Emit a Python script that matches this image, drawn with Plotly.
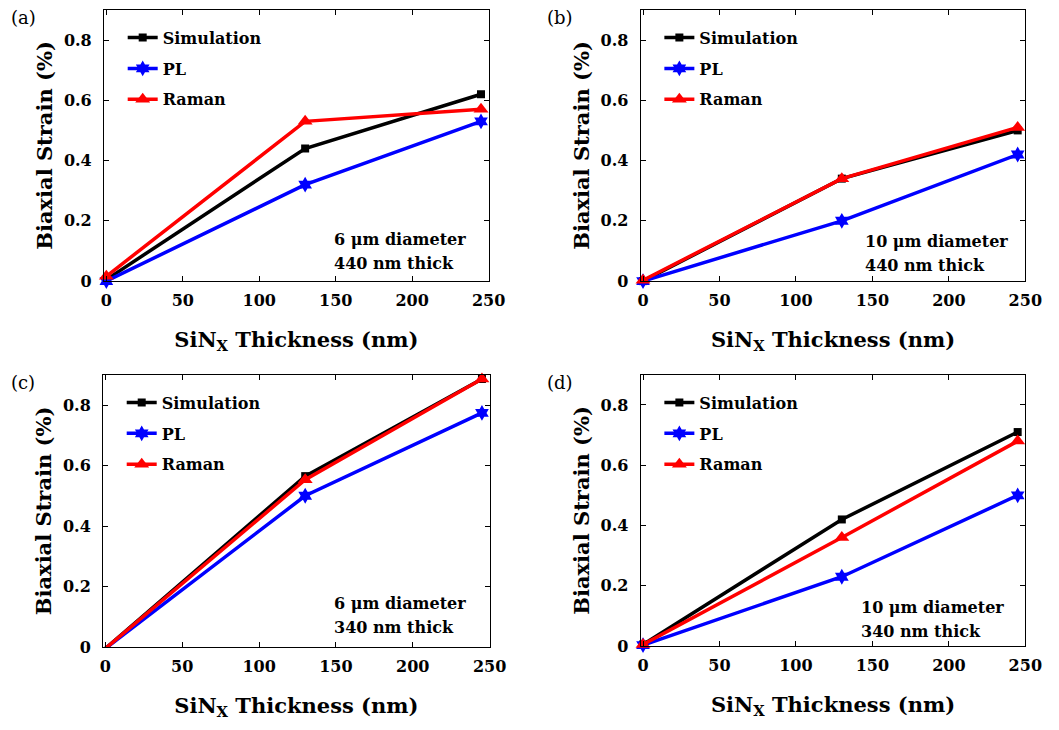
import plotly.graph_objects as go

thickness = [0, 130, 245]

sim_a = [0.005, 0.44, 0.62]
pl_a = [0.0, 0.32, 0.53]
raman_a = [0.016, 0.53, 0.57]

sim_b = [0.0, 0.34, 0.50]
pl_b = [0.0, 0.20, 0.42]
raman_b = [0.003, 0.34, 0.51]

sim_c = [-0.005, 0.565, 0.886]
pl_c = [-0.005, 0.50, 0.774]
raman_c = [-0.005, 0.553, 0.886]

sim_d = [0.005, 0.42, 0.71]
pl_d = [0.003, 0.23, 0.50]
raman_d = [0.005, 0.36, 0.68]

panel_labels = ["(a)", "(b)", "(c)", "(d)"]
notes = [("6 μm diameter", "440 nm thick"), ("10 μm diameter", "440 nm thick"),
         ("6 μm diameter", "340 nm thick"), ("10 μm diameter", "340 nm thick")]
series_names = ["Simulation", "PL", "Raman"]
xticks = [0, 50, 100, 150, 200, 250]
yticks = [0, 0.2, 0.4, 0.6, 0.8]

FONT = "DejaVu Serif"
W, H = 1059, 730

panels = [
    (sim_a, pl_a, raman_a),
    (sim_b, pl_b, raman_b),
    (sim_c, pl_c, raman_c),
    (sim_d, pl_d, raman_d),
]

# pixel boxes of plot frames: left, right, top, bottom
boxes = [(103, 495, 10, 285), (650, 1042, 10, 285), (102, 496, 380, 656), (650, 1042, 380, 655)]
# note text placement (left x, first-line center y) in pixels
note_pos = [(335, 243), (877, 245), (335, 612), (872, 616)]
label_pos = [(6, 18), (552, 18), (6, 388), (552, 388)]

styles = [
    dict(color="black", symbol="square", size=8),
    dict(color="#0000ff", symbol="hexagram", size=12),
    dict(color="#ff0000", symbol="triangle-up", size=13),
]

fig = go.Figure()
layout = dict(
    width=W, height=H, margin=dict(l=0, r=0, t=0, b=0),
    paper_bgcolor="white", plot_bgcolor="white",
    font=dict(family=FONT, size=16, color="black"),
)
annotations = []
for i, (series, box) in enumerate(zip(panels, boxes)):
    n = "" if i == 0 else str(i + 1)
    l, r, t, b = box
    xd = [l / W, r / W]
    yd = [1 - b / H, 1 - t / H]
    legname = "legend" + n
    for name, vals, st in zip(series_names, series, styles):
        fig.add_trace(go.Scatter(
            x=thickness, y=vals, name=name, mode="lines+markers",
            xaxis="x" + n, yaxis="y" + n, legend=legname, legendgroup=name + n,
            line=dict(color=st["color"], width=3.5),
            marker=dict(color=st["color"], symbol=st["symbol"], size=st["size"]),
            cliponaxis=False,
        ))
    axis_common = dict(showline=True, linecolor="black", linewidth=1.2, mirror="allticks",
                       ticks="inside", ticklen=5, tickcolor="black", showgrid=False,
                       zeroline=False, tickfont=dict(family=FONT, size=16, weight="bold"))
    layout["xaxis" + n] = dict(domain=xd, anchor="y" + n, range=[-1.5, 250],
                               tickvals=xticks, ticklabelstandoff=5,
                               title=dict(text="SiN<sub>X</sub> Thickness (nm)",
                                          font=dict(family=FONT, size=21, weight="bold"), standoff=22),
                               **axis_common)
    layout["yaxis" + n] = dict(domain=yd, anchor="x" + n, range=[0, 0.9],
                               tickvals=yticks, ticklabelstandoff=8,
                               title=dict(text="Biaxial Strain (%)",
                                          font=dict(family=FONT, size=21, weight="bold"), standoff=5),
                               **axis_common)
    layout[legname] = dict(x=(l + 19) / W, y=1 - (t + 11) / H, xanchor="left", yanchor="top",
                           bgcolor="rgba(0,0,0,0)", traceorder="grouped", tracegroupgap=7,
                           font=dict(family=FONT, size=16, weight="bold"))
    lx, ly = label_pos[i]
    annotations.append(dict(text=panel_labels[i], x=lx / W, y=1 - ly / H,
                            xref="paper", yref="paper", showarrow=False, xanchor="left",
                            yanchor="middle", font=dict(family=FONT, size=18)))
    nx, ny = note_pos[i]
    for k, line in enumerate(notes[i]):
        annotations.append(dict(text=line, x=nx / W, y=1 - (ny + 24 * k) / H,
                                xref="paper", yref="paper", showarrow=False, xanchor="left",
                                yanchor="middle", align="left",
                                font=dict(family=FONT, size=16, weight="bold")))
layout["annotations"] = annotations
fig.update_layout(**layout)
fig.write_html("out.html")
